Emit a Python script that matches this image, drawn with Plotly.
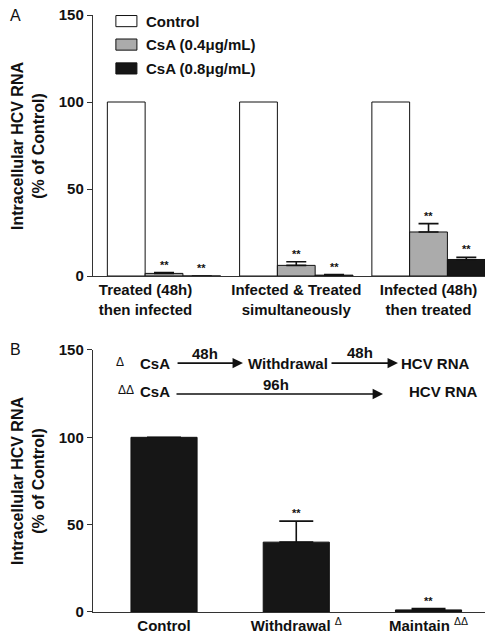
import plotly.graph_objects as go

# ---------------- data ----------------
groups_a = ["Treated (48h)<br>then infected", "Infected & Treated<br>simultaneously", "Infected (48h)<br>then treated"]
series_names = ["Control", "CsA (0.4μg/mL)", "CsA (0.8μg/mL)"]
control_a = [100, 100, 100]
csa04_a = [1.5, 6.1, 25.3]
csa04_err = [0.5, 2.1, 4.8]
csa08_a = [0.0, 0.5, 9.5]
csa08_err = [0.0, 0.3, 1.3]

cats_b = ["<b>Control</b>", "<b>Withdrawal</b> <sup>Δ</sup>", "<b>Maintain</b> <sup>ΔΔ</sup>"]
vals_b = [100, 40, 1.2]
err_b = [0, 12, 0.8]
y_ticks = [0, 50, 100, 150]

FONT = "Liberation Sans, Arial, Helvetica, sans-serif"
BLACK = "#161616"
GRAY = "#ababab"
AX = "#333333"

xs = [0, 1, 2]
fig = go.Figure()

colors = ["white", GRAY, BLACK]
vals = [control_a, csa04_a, csa08_a]
errs = [None, csa04_err, csa08_err]
for name, c, v, e in zip(series_names, colors, vals, errs):
    fig.add_trace(go.Bar(
        x=xs, y=v, name=name, xaxis="x", yaxis="y",
        marker=dict(color=c, line=dict(color="#111111", width=1)),
        error_y=(dict(type="data", array=e, arrayminus=[0]*3, symmetric=False,
                      color="#111111", thickness=1.6, width=10) if e else None),
        showlegend=False,
    ))

fig.add_trace(go.Bar(
    x=xs, y=vals_b, xaxis="x2", yaxis="y2", width=0.5,
    marker=dict(color=BLACK, line=dict(color="#111111", width=1)),
    error_y=dict(type="data", array=err_b, arrayminus=[0]*3, symmetric=False,
                 color="#111111", thickness=1.6, width=17),
    showlegend=False,
))

ann = []
# significance stars, panel A
slot = 0.2857  # bar slot width (in category units)
for i in range(3):
    for k, (v, e) in enumerate([(csa04_a[i], csa04_err[i]), (csa08_a[i], csa08_err[i])]):
        ann.append(dict(x=xs[i] + k * slot, y=v + e, xref="x", yref="y", text="<b>**</b>",
                        showarrow=False, yanchor="bottom",
                        font=dict(size=11, family=FONT, color="#111")))
# panel B stars
for i in [1, 2]:
    ann.append(dict(x=xs[i], y=vals_b[i] + err_b[i], xref="x2", yref="y2", text="<b>**</b>",
                    showarrow=False, yanchor="bottom",
                    font=dict(size=11, family=FONT, color="#111")))

# custom legend (panel A)
leg_y = [146.5, 133.0, 119.3]
for name, c, yy in zip(series_names, colors, leg_y):
    fig.add_shape(type="rect", xref="x", yref="y", x0=-0.364, x1=-0.205, y0=yy - 3.2, y1=yy + 3.2,
                  fillcolor=c, line=dict(color="#111111", width=1))
    ann.append(dict(x=-0.152, y=yy, xref="x", yref="y", text="<b>%s</b>" % name, showarrow=False,
                    xanchor="left", yanchor="middle", font=dict(size=15, family=FONT, color="#111")))

# flow diagram panel B
def txt(x, y, t, size=15, bold=True):
    ann.append(dict(x=x, y=y, xref="x2", yref="y2", text=("<b>%s</b>" % t) if bold else t,
                    showarrow=False, font=dict(size=size, family=FONT, color="#111")))

def arrow(x0, x1, y):
    ann.append(dict(x=x1, y=y, ax=x0, ay=y, xref="x2", yref="y2", axref="x2", ayref="y2",
                    text="", showarrow=True, arrowhead=2, arrowsize=1.3, arrowwidth=1.6,
                    arrowcolor="#111", standoff=0, startstandoff=0))

txt(-0.333, 143.0, "Δ", size=12, bold=False)
txt(-0.068, 142.5, "CsA")
arrow(0.091, 0.597, 142.5)
txt(0.31, 147.7, "48h")
txt(0.941, 142.5, "Withdrawal")
arrow(1.255, 1.769, 142.5)
txt(1.482, 148.3, "48h")
txt(2.049, 142.5, "HCV RNA")
txt(-0.287, 127.0, "ΔΔ", size=12, bold=False)
txt(-0.068, 126.0, "CsA")
arrow(0.083, 1.656, 124.8)
txt(0.847, 130.0, "96h")
txt(2.11, 126.0, "HCV RNA")

# page px -> paper coords; plot area spans x 93..485, y 15..612 on the page
PW, PH = 485 - 93, 612 - 15
def px2paper(px, py):
    return (px - 93) / PW, (612 - py) / PH

for letter, px, py in (("A", 15, 15), ("B", 15, 350)):
    x, y = px2paper(px, py)
    ann.append(dict(x=x, y=y, xref="paper", yref="paper", text=letter,
                    showarrow=False, xanchor="center", yanchor="middle",
                    font=dict(size=16, family=FONT, color="#111")))

# y-axis titles (two lines, rotated)
ytitle = "<b>Intracellular HCV RNA<br>(% of Control)</b>"
for py in (146, 481):
    x, y = px2paper(28, py)
    ann.append(dict(x=x, y=y, xref="paper", yref="paper", text=ytitle, textangle=-90,
                    showarrow=False, xanchor="center", yanchor="middle",
                    font=dict(size=16, family=FONT, color="#111")))

xr = [-0.537, 2.427]
common_y = dict(range=[0, 150], tickvals=y_ticks, ticks="outside", ticklen=5, tickwidth=1.2,
                tickcolor=AX, showline=True, linecolor=AX, linewidth=1.4, showgrid=False,
                zeroline=False, automargin=False, ticklabeloverflow="allow",
                tickfont=dict(size=15, family=FONT, color="#111", weight="bold"),
                fixedrange=True)
common_x = dict(range=xr, showline=True, linecolor=AX, linewidth=1.4, showgrid=False, zeroline=False,
                ticks="", automargin=False, ticklabeloverflow="allow",
                tickfont=dict(size=15, family=FONT, color="#111"))

# the page body adds an 8px offset, so margins compensate for it
fig.update_layout(
    template="none",
    width=504, height=640,
    margin=dict(l=85, r=27, t=7, b=36, autoexpand=False),
    paper_bgcolor="white", plot_bgcolor="white",
    showlegend=False,
    barmode="group", bargap=0.143, bargroupgap=0,
    font=dict(family=FONT, color="#111"),
    xaxis=dict(common_x, anchor="y", tickvals=[-0.14, 1, 2],
               ticktext=["<b>%s</b>" % g.replace("<br>", "</b><br><b>") for g in groups_a]),
    yaxis=dict(common_y, domain=[0.5628, 1.0], anchor="x"),
    xaxis2=dict(common_x, anchor="y2", tickvals=xs, ticktext=cats_b),
    yaxis2=dict(common_y, domain=[0, 0.4389], anchor="x2"),
    annotations=ann,
)

fig.write_html("out.html")
